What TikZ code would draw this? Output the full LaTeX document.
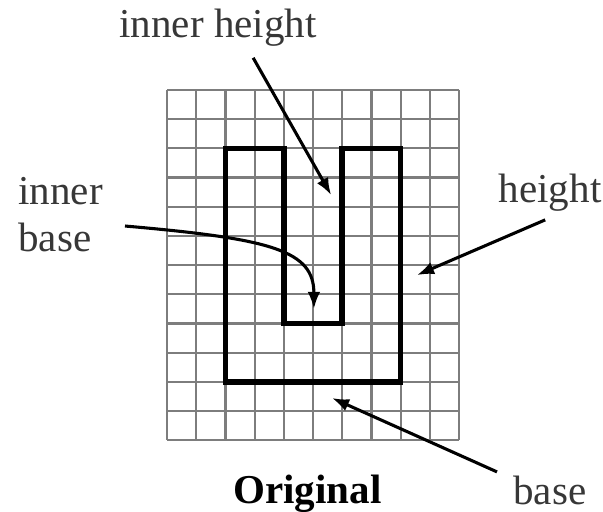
\documentclass[tikz,border=0pt]{standalone}
\usepackage{fontspec}
\setmainfont{Liberation Serif}
\usepackage{xcolor}
\usetikzlibrary{arrows.meta}
\definecolor{GridGray}{RGB}{125,125,125}
\definecolor{LabelInk}{RGB}{55,55,55}

\begin{document}
\begin{tikzpicture}[x=0.6cm, y=0.6cm,
    font=\fontsize{24}{27.5}\selectfont,
    label/.style={inner sep=0pt, text=LabelInk},
    pointer/.style={line width=1.8pt, -{Latex[length=10pt,width=7.5pt]}}]
  \useasboundingbox (-5.72,3.08) rectangle (14.93,-14.45);
  % squared paper, 10 x 12 cells
  \foreach \i in {0,...,10}
    \draw[GridGray, line width=1.3pt] (\i,0) -- (\i,-12);
  \foreach \j in {0,...,12}
    \draw[GridGray, line width=1.3pt] (0,-\j) -- (10,-\j);
  % the U outline
  \draw[line width=3.3pt, line join=miter]
    (2,-2) -- (4,-2) -- (4,-8) -- (6,-8) -- (6,-2) -- (8,-2)
    -- (8,-10) -- (2,-10) -- cycle;
  % labels
  \node[label, anchor=base] (ih) at (1.75,1.78) {inner height};
  \node[label, anchor=west, align=left] (ib) at (-5.10,-4.26) {inner\\base};
  \node[label, anchor=base west] (ht) at (11.35,-3.87) {height};
  \node[label, anchor=base west] (bs) at (11.85,-14.18) {base};
  \node[inner sep=0pt, anchor=base west, font=\fontsize{24}{27.5}\selectfont\bfseries]
    (orig) at (2.26,-14.16) {Original};
  % arrow ends
  \coordinate (ihtail) at (2.95,1.10);
  \coordinate (ihtip) at (5.62,-3.60);
  \coordinate (ibtail) at (-1.44,-4.66);
  \coordinate (ibtip) at (5.03,-7.50);
  \coordinate (httail) at (12.95,-4.45);
  \coordinate (httip) at (8.56,-6.34);
  \coordinate (bstail) at (11.30,-13.08);
  \coordinate (bstip) at (5.65,-10.55);
  % pointers
  \draw[pointer] (ihtail) -- (ihtip);
  \draw[pointer] (ibtail) .. controls (3.6,-5.1) and (5.03,-5.5) .. (ibtip);
  \draw[pointer] (httail) -- (httip);
  \draw[pointer] (bstail) -- (bstip);
\end{tikzpicture}
\end{document}
